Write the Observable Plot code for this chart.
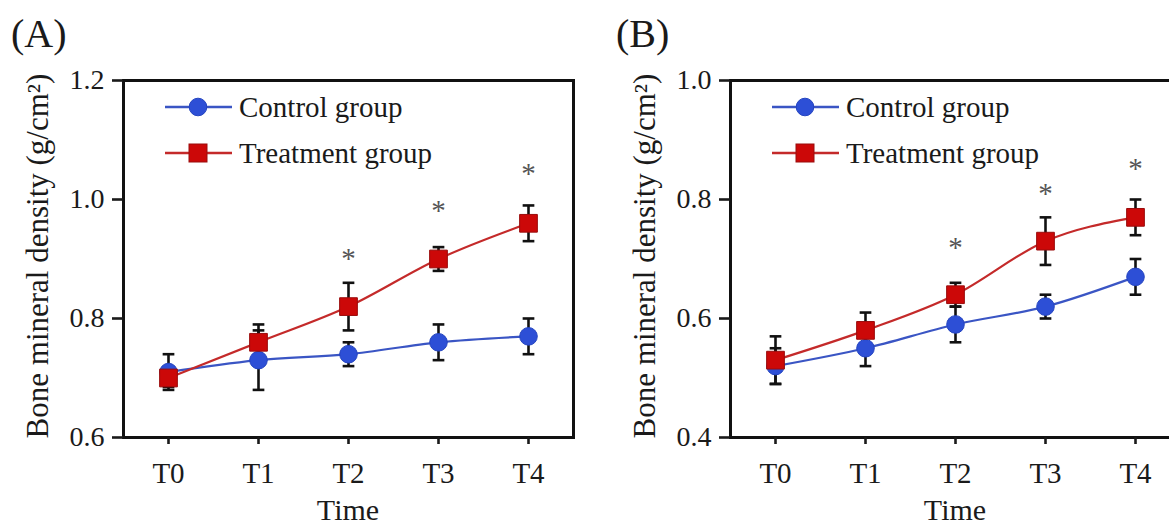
<!DOCTYPE html>
<html>
<head>
<meta charset="utf-8">
<script src="https://cdn.jsdelivr.net/npm/d3@7"></script>
<script src="https://cdn.jsdelivr.net/npm/@observablehq/plot@0.6"></script>
<style>
  html, body { margin: 0; padding: 0; background: #fff; overflow: hidden; }
  #wrap { position: relative; width: 1169px; height: 529px; overflow: hidden; background: #fff; }
  #wrap svg.plot { position: absolute; top: 0; }
</style>
</head>
<body>
<div id="wrap"></div>
<script>
// ---- data ----
const times = ["T0", "T1", "T2", "T3", "T4"];
const seriesNames = ["Control group", "Treatment group"];

const aControlMean = [0.71, 0.73, 0.74, 0.76, 0.77];
const aControlErr  = [0.03, 0.05, 0.02, 0.03, 0.03];
const aTreatMean   = [0.70, 0.76, 0.82, 0.90, 0.96];
const aTreatErr    = [0.015, 0.03, 0.04, 0.02, 0.03];
const aStarTimes   = [2, 3, 4];
const aStarY       = [0.907, 0.988, 1.05];
const aYTicks      = [0.6, 0.8, 1.0, 1.2];

const bControlMean = [0.52, 0.55, 0.59, 0.62, 0.67];
const bControlErr  = [0.03, 0.03, 0.03, 0.02, 0.03];
const bTreatMean   = [0.53, 0.58, 0.64, 0.73, 0.77];
const bTreatErr    = [0.04, 0.03, 0.02, 0.04, 0.03];
const bStarTimes   = [2, 3, 4];
const bStarY       = [0.726, 0.817, 0.859];
const bYTicks      = [0.4, 0.6, 0.8, 1.0];

const yTitle = "Bone mineral density (g/cm²)";
const xTitle = "Time";

// ---- styles ----
const FONT = '"Liberation Serif", "Times New Roman", serif';
const BLUE = "#2d4fd6", BLUE_LINE = "#3a55c4";
const RED = "#cc0808", RED_EDGE = "#9a0c0c", RED_LINE = "#c42a2a";
const INK = "#1a1a1a";

function rows(mean, err, group) {
  return mean.map((m, i) => ({ t: i, m, lo: m - err[i], hi: m + err[i], group }));
}

function panel({ left, width, marginLeft, marginRight, yDomain, yTicks, control, treat, starT, starY, letter, letterX }) {
  const c = rows(control[0], control[1], seriesNames[0]);
  const t = rows(treat[0], treat[1], seriesNames[1]);
  const stars = starT.map((ti, i) => ({ t: ti, y: starY[i] }));
  const capW = 0.065;
  const errMarks = (d) => [
    Plot.link(d, { x1: "t", x2: "t", y1: "lo", y2: "hi", stroke: "#111", strokeWidth: 2.6 }),
    Plot.link(d, { x1: (r) => r.t - capW, x2: (r) => r.t + capW, y1: "hi", y2: "hi", stroke: "#111", strokeWidth: 2.6 }),
    Plot.link(d, { x1: (r) => r.t - capW, x2: (r) => r.t + capW, y1: "lo", y2: "lo", stroke: "#111", strokeWidth: 2.6 })
  ];
  const svg = Plot.plot({
    width, height: 529,
    marginLeft, marginRight, marginTop: 80, marginBottom: 92,
    style: { fontFamily: FONT, background: "transparent", overflow: "visible" },
    x: { type: "linear", domain: [-0.5, 4.5] },
    y: { domain: yDomain },
    marks: [
      ...errMarks(c),
      ...errMarks(t),
      Plot.line(c, { x: "t", y: "m", stroke: BLUE_LINE, strokeWidth: 2.2, curve: "monotone-x" }),
      Plot.dot(c, { x: "t", y: "m", r: 8.8, fill: BLUE, stroke: "#2444c0", strokeWidth: 1, symbol: "circle" }),
      Plot.line(t, { x: "t", y: "m", stroke: RED_LINE, strokeWidth: 2.2, curve: "monotone-x" }),
      Plot.dot(t, { x: "t", y: "m", r: 10, fill: RED, stroke: RED_EDGE, strokeWidth: 1, symbol: "square" }),
      Plot.text(stars, { x: "t", y: "y", text: () => "*", fontSize: 29, fill: "#555", dy: 4 }),
      Plot.frame({ stroke: "#111", strokeWidth: 3 }),
      Plot.axisY({ ticks: yTicks, tickFormat: d3.format(".1f"), tickSize: 11, tickPadding: 8, fontSize: 28, color: INK, label: null, strokeWidth: 2.6 }),
      Plot.axisX({ ticks: [0, 1, 2, 3, 4], tickFormat: (i) => times[i], tickSize: 7, tickPadding: 18, fontSize: 29, color: INK, label: null, strokeWidth: 2.6 })
    ]
  });
  svg.classList.add("plot");
  svg.style.left = left + "px";
  const s = d3.select(svg);
  const x0 = marginLeft, x1 = width - marginRight;
  // axis titles
  s.append("text")
    .attr("transform", `translate(${marginLeft - 86},256) rotate(-90)`)
    .attr("text-anchor", "middle").attr("dy", "0.35em")
    .attr("font-family", FONT).attr("font-size", 31).attr("fill", INK)
    .text(yTitle);
  s.append("text")
    .attr("x", (x0 + x1) / 2)
    .attr("y", 520)
    .attr("text-anchor", "middle")
    .attr("font-family", FONT).attr("font-size", 30).attr("fill", INK)
    .text(xTitle);
  // panel letter
  s.append("text")
    .attr("x", letterX).attr("y", 47)
    .attr("text-anchor", "start")
    .attr("font-family", FONT).attr("font-size", 40).attr("fill", INK)
    .text(letter);
  // legend
  const lg = s.append("g").attr("transform", `translate(${marginLeft + 42},0)`);
  const items = [
    { name: seriesNames[0], y: 107, color: BLUE_LINE, kind: "circle" },
    { name: seriesNames[1], y: 153, color: RED_LINE, kind: "square" }
  ];
  for (const it of items) {
    lg.append("line").attr("x1", 0).attr("x2", 67).attr("y1", it.y).attr("y2", it.y)
      .attr("stroke", it.color).attr("stroke-width", 2.4);
    if (it.kind === "circle") {
      lg.append("circle").attr("cx", 33).attr("cy", it.y).attr("r", 8.8).attr("fill", BLUE).attr("stroke", "#2444c0");
    } else {
      lg.append("rect").attr("x", 33 - 9).attr("y", it.y - 9).attr("width", 18).attr("height", 18)
        .attr("fill", RED).attr("stroke", RED_EDGE);
    }
    lg.append("text").attr("x", 74).attr("y", it.y).attr("dy", "0.33em")
      .attr("text-anchor", "start")
      .attr("font-family", FONT).attr("font-size", 29).attr("fill", INK).text(it.name);
  }
  return svg;
}

const wrap = document.getElementById("wrap");
wrap.appendChild(panel({
  left: 0, width: 600, marginLeft: 123, marginRight: 27,
  yDomain: [0.6, 1.2], yTicks: aYTicks,
  control: [aControlMean, aControlErr], treat: [aTreatMean, aTreatErr],
  starT: aStarTimes, starY: aStarY, letter: "(A)", letterX: 11
}));
wrap.appendChild(panel({
  left: 600, width: 600, marginLeft: 130, marginRight: 20,
  yDomain: [0.4, 1.0], yTicks: bYTicks,
  control: [bControlMean, bControlErr], treat: [bTreatMean, bTreatErr],
  starT: bStarTimes, starY: bStarY, letter: "(B)", letterX: 16
}));
</script>
</body>
</html>
